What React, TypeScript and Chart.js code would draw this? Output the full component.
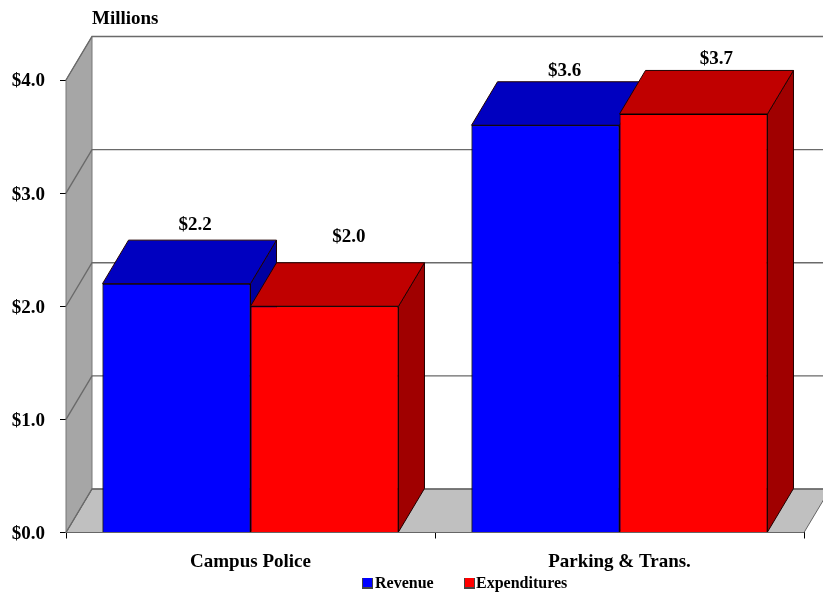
import React, { useEffect, useRef } from "react";
import { Chart, registerables } from "chart.js";

Chart.register(...registerables);

const categories = ["Campus Police", "Parking & Trans."];
const revenue = [2.2, 3.6];
const expenditures = [2.0, 3.7];
const yTicks = [0, 1, 2, 3, 4];
const seriesNames = ["Revenue", "Expenditures"];
const seriesColors = ["#0000ff", "#ff0000"];
const topColors = ["#0000c0", "#c00000"];
const sideColors = ["#0000a0", "#a00000"];

const DX = 26;
const DY = 43.5;
const FONT = "'Liberation Serif', 'Times New Roman', serif";
// small placement nudges for the value labels, per series then per category: [dx, dy]
const labelNudges = [
  [[18.5, -59], [19, -54]],
  [[24.5, -69], [23, -55]],
];

function poly(ctx: CanvasRenderingContext2D, pts: number[][], fill: string, stroke: string, lw = 1) {
  ctx.beginPath();
  pts.forEach((p, i) => (i ? ctx.lineTo(p[0], p[1]) : ctx.moveTo(p[0], p[1])));
  ctx.closePath();
  ctx.fillStyle = fill;
  ctx.fill();
  ctx.strokeStyle = stroke;
  ctx.lineWidth = lw;
  ctx.stroke();
}

const walls = {
  id: "walls",
  beforeDatasetsDraw(chart: any) {
    const { ctx, scales } = chart;
    const x = scales.x;
    const y = scales.y;
    const y0 = y.getPixelForValue(0);
    const yTop = y.getPixelForValue(4);
    ctx.save();
    // floor
    poly(ctx, [[x.left, y0], [x.left + DX, y0 - DY], [x.right + DX, y0 - DY], [x.right, y0]], "#c0c0c0", "#666666");
    // side wall
    poly(ctx, [[x.left, y0], [x.left + DX, y0 - DY], [x.left + DX, yTop - DY], [x.left, yTop]], "#a6a6a6", "#777777");
    // grid lines on the side and back walls
    yTicks.forEach((v) => {
      const py = y.getPixelForValue(v);
      ctx.beginPath();
      ctx.moveTo(x.left, py);
      ctx.lineTo(x.left + DX, py - DY);
      ctx.lineTo(x.right + DX, py - DY);
      ctx.strokeStyle = "#6a6a6a";
      ctx.lineWidth = 1.4;
      ctx.stroke();
    });
    ctx.restore();
  },
};

const bars3d = {
  id: "bars3d",
  afterDatasetsDraw(chart: any) {
    const { ctx } = chart;
    ctx.save();
    [0, 1].forEach((ds) => {
      const meta = chart.getDatasetMeta(ds);
      meta.data.forEach((el: any) => {
        const l = el.x - el.width / 2;
        const r = el.x + el.width / 2;
        const t = el.y;
        const b = el.base;
        poly(ctx, [[r, t], [r + DX, t - DY], [r + DX, b - DY], [r, b]], sideColors[ds], "#200000");
        poly(ctx, [[l, t], [l + DX, t - DY], [r + DX, t - DY], [r, t]], topColors[ds], "#200000");
      });
      if (ds === 1) meta.controller.draw();
      else meta.data.forEach((el: any) => el.draw(ctx));
    });
    ctx.restore();
  },
};

const annotations = {
  id: "annotations",
  afterDraw(chart: any) {
    const { ctx } = chart;
    ctx.save();
    ctx.fillStyle = "#000";
    ctx.textBaseline = "middle";
    // value labels
    ctx.font = `bold 19px ${FONT}`;
    ctx.textAlign = "center";
    [0, 1].forEach((ds) => {
      chart.getDatasetMeta(ds).data.forEach((el: any, i: number) => {
        const v = chart.data.datasets[ds].data[i];
        const n = labelNudges[ds][i];
        ctx.fillText("$" + Number(v).toFixed(1), el.x + n[0], el.y + n[1]);
      });
    });
    // unit label
    ctx.textAlign = "left";
    ctx.fillText("Millions", 92, 19);
    // legend
    ctx.font = `bold 16px ${FONT}`;
    const swatchX = [363, 465];
    const textX = [375, 476];
    seriesNames.forEach((name, i) => {
      ctx.fillStyle = "#444";
      ctx.fillRect(swatchX[i] - 1, 578, 11, 11);
      ctx.fillStyle = seriesColors[i];
      ctx.fillRect(swatchX[i], 578, 9, 9);
      ctx.fillStyle = "#000";
      ctx.fillText(name, textX[i], 584);
    });
    ctx.restore();
  },
};

export default function App() {
  const ref = useRef<HTMLCanvasElement>(null);
  useEffect(() => {
    const chart = new Chart(ref.current as HTMLCanvasElement, {
      type: "bar",
      data: {
        labels: categories,
        datasets: [
          { label: seriesNames[0], data: revenue, backgroundColor: seriesColors[0], borderColor: "#000", borderWidth: 1 },
          { label: seriesNames[1], data: expenditures, backgroundColor: seriesColors[1], borderColor: "#000", borderWidth: 1 },
        ],
      },
      options: {
        responsive: false,
        animation: false,
        devicePixelRatio: 1,
        datasets: { bar: { categoryPercentage: 0.802, barPercentage: 1 } },
        layout: { padding: { left: 0, right: 19, top: 80, bottom: 0 } },
        plugins: { legend: { display: false }, tooltip: { enabled: false }, title: { display: false } },
        scales: {
          x: {
            afterFit: (s: any) => { s.height = 59.5; },
            offset: true,
            grid: { offset: true, drawOnChartArea: false, drawTicks: true, tickLength: 6, color: "#000" },
            border: { display: true, color: "#000", width: 1 },
            ticks: { padding: 12, maxRotation: 0, color: "#000", font: { family: FONT, size: 19, weight: "bold" } },
          },
          y: {
            min: 0,
            max: 4,
            afterFit: (s: any) => { s.width = 66; },
            afterBuildTicks: (s: any) => { s.ticks = yTicks.map((value) => ({ value })); },
            grid: { drawOnChartArea: false, drawTicks: true, tickLength: 6, color: "#000" },
            border: { display: true, color: "#000", width: 1 },
            ticks: {
              padding: 15,
              labelOffset: 1.5,
              color: "#000",
              font: { family: FONT, size: 19, weight: "bold" },
              callback: (v: any) => "$" + Number(v).toFixed(1),
            },
          },
        },
      } as any,
      plugins: [walls, bars3d, annotations],
    });
    return () => chart.destroy();
  }, []);
  return (
    <div style={{ position: "absolute", left: 0, top: 0, width: 823, height: 592, overflow: "hidden", background: "#fff" }}>
      <canvas ref={ref} width={823} height={592} style={{ display: "block" }} />
    </div>
  );
}
